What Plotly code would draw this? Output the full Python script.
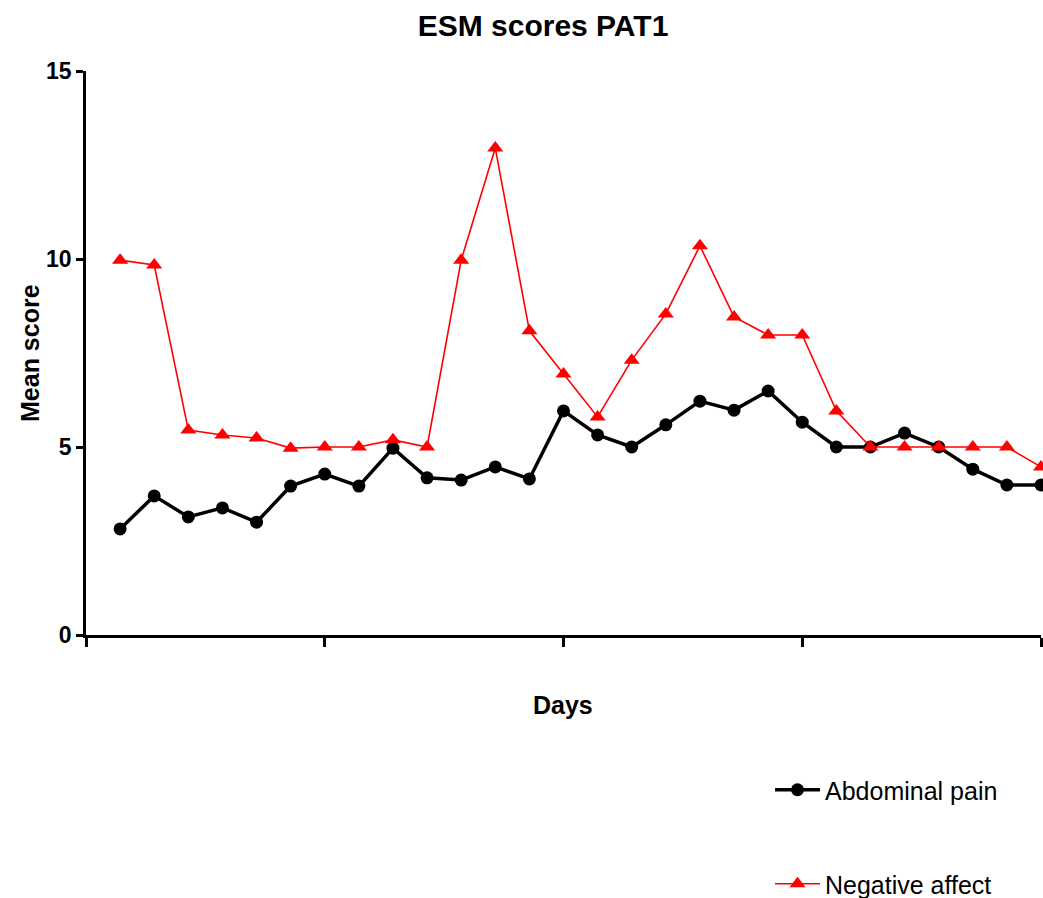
import plotly.graph_objects as go

days = list(range(1, 29))
abdominal_pain = [2.82, 3.70, 3.14, 3.38, 3.0, 3.96, 4.28, 3.96, 4.97, 4.18, 4.12, 4.47, 4.15, 5.96,
                  5.32, 5.0, 5.59, 6.22, 5.98, 6.49, 5.66, 5.0, 5.0, 5.37, 5.0, 4.41, 3.99, 3.99]
negative_affect = [9.97, 9.84, 5.45, 5.32, 5.24, 4.97, 5.0, 5.0, 5.19, 5.0, 9.97, 12.95, 8.09, 6.94,
                   5.8, 7.31, 8.54, 10.35, 8.46, 7.98, 7.98, 5.96, 5.0, 5.0, 5.0, 5.0, 5.0, 4.47]
x_ticks = [0, 7, 14, 21, 28]
y_ticks = [0, 5, 10, 15]

FONT = "Liberation Sans, Arial, sans-serif"

fig = go.Figure()
fig.add_trace(go.Scatter(
    x=days, y=abdominal_pain, name="Abdominal pain", mode="lines+markers",
    line=dict(color="black", width=3.5),
    marker=dict(symbol="circle", size=13, color="black"),
    cliponaxis=False, legend="legend"))
fig.add_trace(go.Scatter(
    x=days, y=negative_affect, name="Negative affect", mode="lines+markers",
    line=dict(color="#ff0000", width=1.6),
    marker=dict(symbol="triangle-up", size=14, color="#ff0000"),
    cliponaxis=False, legend="legend2"))

W, H = 1043, 898
L, R, T, B = 86, 2, 71, 263
pw, ph = W - L - R, H - T - B

def px_x(p):
    return (p - L) / pw

def px_y(p):
    return (H - B - p) / ph

fig.update_layout(
    width=W, height=H,
    margin=dict(l=L, r=R, t=T, b=B, autoexpand=False),
    plot_bgcolor="white", paper_bgcolor="white",
    font=dict(family=FONT, color="black"),
    showlegend=True,
    title=dict(text="<b>ESM scores PAT1</b>", x=543 / W, xanchor="center",
               y=1 - 25 / H, yanchor="middle", yref="container",
               font=dict(size=30, family=FONT)),
    xaxis=dict(range=[0, 28], tickvals=x_ticks, showticklabels=False,
               ticks="outside", ticklen=9, tickwidth=2.5, tickcolor="black",
               showline=True, linecolor="black", linewidth=2.5,
               showgrid=False, zeroline=False),
    yaxis=dict(range=[0, 15], tickvals=y_ticks, ticks="outside", ticklen=7,
               tickwidth=2.5, tickcolor="black",
               showline=True, linecolor="black", linewidth=2.5,
               showgrid=False, zeroline=False,
               tickfont=dict(size=23, family=FONT, weight="bold")),
    legend=dict(x=px_x(770), y=px_y(790), xanchor="left", yanchor="middle",
                itemwidth=45,
                font=dict(size=25, family=FONT), bgcolor="rgba(0,0,0,0)"),
    legend2=dict(x=px_x(770), y=px_y(884), xanchor="left", yanchor="middle",
                 itemwidth=45,
                 font=dict(size=25, family=FONT), bgcolor="rgba(0,0,0,0)"),
    annotations=[
        dict(text="<b>Days</b>", x=px_x(563), y=px_y(705), xref="paper", yref="paper",
             showarrow=False, xanchor="center", yanchor="middle",
             font=dict(size=25, family=FONT)),
        dict(text="<b>Mean score</b>", x=px_x(30), y=px_y(353), xref="paper", yref="paper",
             showarrow=False, xanchor="center", yanchor="middle", textangle=-90,
             font=dict(size=25, family=FONT)),
    ],
)

fig.write_html(
    "out.html",
    config={"displayModeBar": False},
    post_script="document.body.style.margin='0';document.body.style.overflow='hidden';",
)
